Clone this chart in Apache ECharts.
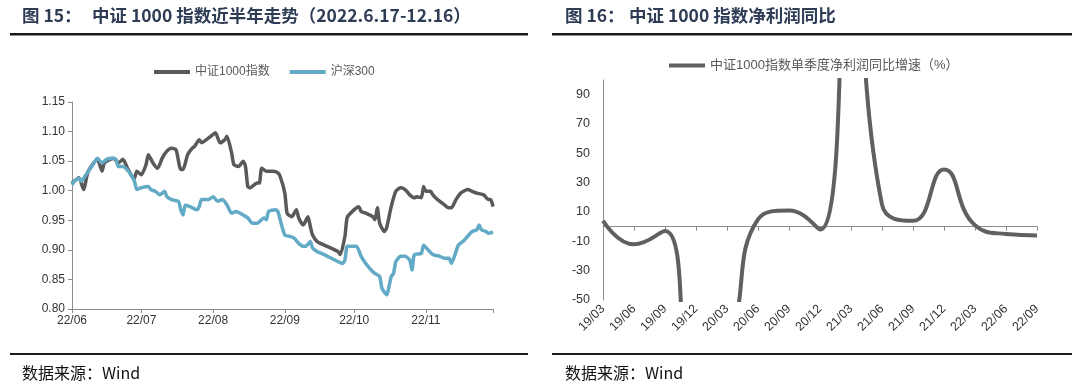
<!DOCTYPE html>
<html><head><meta charset="utf-8">
<script src="https://cdn.jsdelivr.net/npm/echarts@6/dist/echarts.min.js"></script>
<style>html,body{margin:0;padding:0;background:#fff}#c{width:1080px;height:390px}</style>
</head><body><div id="c"></div>
<script>
// ---- Left chart data (x = calendar days since 2022-06-17) ----
const monthTickDays = [0, 30, 61, 92, 122, 153, 182];
const monthLabels = ['22/06', '22/07', '22/08', '22/09', '22/10', '22/11'];
const csiDays = [0,3,5,7,11,13,14,18,20,22,24,26,27,28,30,32,33,35,37,39,41,43,45,47,48,50,52,53,55,56,58,60,62,64,66,67,69,70,72,74,75,76,77,80,81,82,84,87,89,90,92,93,95,97,98,100,102,103,104,106,109,112,115,116,118,119,122,124,125,127,130,131,132,133,135,136,138,140,142,144,146,148,149,151,152,153,155,156,158,159,161,163,164,166,168,171,173,175,178,180,181,182];
const csiValues = [1.013,1.022,1.002,1.033,1.053,1.033,1.047,1.055,1.047,1.053,1.038,1.024,1.021,1.033,1.027,1.044,1.061,1.047,1.038,1.055,1.067,1.072,1.069,1.036,1.036,1.061,1.072,1.075,1.086,1.081,1.086,1.092,1.098,1.081,1.086,1.092,1.064,1.044,1.041,1.050,1.041,1.007,1.005,1.013,1.013,1.038,1.033,1.033,1.030,1.024,0.996,0.962,0.956,0.968,0.954,0.942,0.956,0.940,0.925,0.914,0.908,0.903,0.897,0.892,0.923,0.955,0.968,0.973,0.965,0.962,0.956,0.951,0.971,0.945,0.931,0.937,0.973,0.999,1.005,1.002,0.993,0.988,0.990,0.988,1.007,0.999,0.999,0.993,0.985,0.982,0.976,0.971,0.971,0.985,0.996,1.002,0.999,0.996,0.993,0.985,0.985,0.973];
const hsDays = [0,1,3,4,6,8,10,11,13,15,17,19,20,22,25,27,28,30,33,34,36,38,40,41,43,46,47,48,49,51,54,55,56,59,61,63,65,67,69,71,74,76,78,80,83,84,85,88,89,90,92,94,96,98,100,101,103,104,106,109,112,115,117,118,119,121,123,125,127,130,131,133,134,136,138,139,140,142,144,146,147,148,151,152,154,156,159,161,163,164,167,169,171,173,175,176,177,179,180,182];
const hsValues = [1.010,1.016,1.021,1.016,1.027,1.038,1.050,1.055,1.047,1.053,1.055,1.053,1.041,1.041,1.030,1.016,1.002,1.005,1.007,1.002,0.999,0.993,0.999,0.990,0.985,0.982,0.968,0.959,0.976,0.973,0.968,0.973,0.985,0.985,0.990,0.982,0.985,0.976,0.962,0.965,0.959,0.954,0.945,0.945,0.954,0.951,0.965,0.968,0.965,0.951,0.925,0.923,0.920,0.911,0.906,0.906,0.914,0.903,0.897,0.892,0.886,0.880,0.877,0.883,0.906,0.906,0.906,0.889,0.877,0.863,0.860,0.855,0.835,0.824,0.855,0.860,0.880,0.889,0.889,0.883,0.866,0.892,0.894,0.908,0.900,0.892,0.889,0.886,0.886,0.877,0.908,0.914,0.923,0.931,0.934,0.942,0.934,0.931,0.928,0.930];

// ---- Right chart data ----
const quarters = ['19/03','19/06','19/09','19/12','20/03','20/06','20/09','20/12','21/03','21/06','21/09','21/12','22/03','22/06','22/09'];
const profitGrowth = [4, -12, -3, -110, -85, 5, 11, -2, 220, 15, 4, 39, 1, -5, -6];

const FONT = "'Liberation Sans', 'Noto Sans CJK SC', sans-serif";
const CJK = "'Noto Sans CJK SC', 'Liberation Sans', sans-serif";
const AX = '#8c8c8c';

const chart = echarts.init(document.getElementById('c'), null, { renderer: 'canvas' });

chart.setOption({
  animation: false,
  backgroundColor: '#fff',
  textStyle: { fontFamily: FONT },
  grid: [
    { left: 72, top: 102, width: 421, height: 207 },
    { left: 603, top: 80, width: 434, height: 220 }
  ],
  legend: [
    {
      data: ['中证1000指数', '沪深300'], left: 149, top: 61,
      icon: 'rect', itemWidth: 36, itemHeight: 4, itemGap: 20,
      textStyle: { fontSize: 12, color: '#595959', fontFamily: FONT }
    },
    {
      data: ['中证1000指数单季度净利润同比增速（%）'], left: 664, top: 54,
      icon: 'rect', itemWidth: 36, itemHeight: 4,
      textStyle: { fontSize: 13, color: '#595959', fontFamily: FONT }
    }
  ],
  xAxis: [
    {
      type: 'value', gridIndex: 0, min: 0, max: 182,
      axisLine: { show: true, lineStyle: { color: AX, width: 1 } },
      axisTick: { show: true, customValues: monthTickDays, length: 4, lineStyle: { color: AX } },
      axisLabel: {
        customValues: monthTickDays.slice(0, 6),
        formatter: v => monthLabels[monthTickDays.indexOf(v)] || '',
        color: '#333', fontSize: 12, margin: 6
      },
      splitLine: { show: false }
    },
    {
      type: 'category', gridIndex: 1, data: quarters, boundaryGap: false, position: 'bottom',
      axisLine: { show: false, onZero: false },
      axisTick: { show: false },
      axisLabel: { rotate: 45, color: '#333', fontSize: 12.5, margin: 7, interval: 0 },
      splitLine: { show: false }
    },
    {
      type: 'category', gridIndex: 1, data: quarters, boundaryGap: false, position: 'bottom',
      axisLine: { show: true, onZero: true, lineStyle: { color: AX, width: 1 } },
      axisTick: { show: true, length: 4, interval: 0, lineStyle: { color: AX } },
      axisLabel: { show: false },
      splitLine: { show: false }
    }
  ],
  yAxis: [
    {
      type: 'value', gridIndex: 0, min: 0.8, max: 1.15, interval: 0.05,
      axisLine: { show: true, lineStyle: { color: AX, width: 1 } },
      axisTick: { show: true, length: 4, lineStyle: { color: AX } },
      axisLabel: { formatter: v => v.toFixed(2), color: '#333', fontSize: 12, margin: 7 },
      splitLine: { show: false }
    },
    {
      type: 'value', gridIndex: 1, min: -50, max: 100, interval: 20,
      axisLine: { show: true, lineStyle: { color: AX, width: 1 } },
      axisTick: { show: false },
      axisLabel: { formatter: v => (v > 90 ? '' : String(v)), color: '#333', fontSize: 12.5, margin: 13 },
      splitLine: { show: false }
    }
  ],
  series: [
    {
      name: '中证1000指数', type: 'line', xAxisIndex: 0, yAxisIndex: 0,
      data: csiDays.map((d, i) => [d, csiValues[i]]),
      showSymbol: false, symbol: 'none', smooth: 0.2,
      lineStyle: { color: '#595959', width: 3.5 }, itemStyle: { color: '#595959' }, z: 3
    },
    {
      name: '沪深300', type: 'line', xAxisIndex: 0, yAxisIndex: 0,
      data: hsDays.map((d, i) => [d, hsValues[i]]),
      showSymbol: false, symbol: 'none', smooth: 0.2,
      lineStyle: { color: '#62aac6', width: 3.5 }, itemStyle: { color: '#62aac6' }, z: 4
    },
    {
      name: '中证1000指数单季度净利润同比增速（%）', type: 'line', xAxisIndex: 1, yAxisIndex: 1,
      data: profitGrowth,
      showSymbol: false, symbol: 'none', smooth: true,
      lineStyle: { color: '#606060', width: 4 }, itemStyle: { color: '#606060' }
    }
  ],
  graphic: [
    { type: 'text', left: 22, top: 7, style: { text: '图 15：', font: 'bold 17.5px ' + CJK, fill: '#2e3c56' } },
    { type: 'text', left: 92, top: 7, style: { text: '中证 1000 指数近半年走势（2022.6.17-12.16）', font: 'bold 17.5px ' + CJK, fill: '#2e3c56' } },
    { type: 'rect', shape: { x: 10, y: 33, width: 518, height: 2.5 }, style: { fill: '#1a1a1a' } },
    { type: 'text', left: 565, top: 7, style: { text: '图 16：', font: 'bold 17.5px ' + CJK, fill: '#2e3c56' } },
    { type: 'text', left: 629, top: 7, style: { text: '中证 1000 指数净利润同比', font: 'bold 17.5px ' + CJK, fill: '#2e3c56' } },
    { type: 'rect', shape: { x: 552, y: 33, width: 520, height: 2.5 }, style: { fill: '#1a1a1a' } },
    { type: 'rect', shape: { x: 10, y: 353, width: 518, height: 2 }, style: { fill: '#1a1a1a' } },
    { type: 'rect', shape: { x: 552, y: 353, width: 520, height: 2 }, style: { fill: '#1a1a1a' } },
    { type: 'text', left: 22, top: 365, style: { text: '数据来源：Wind', font: '16px ' + CJK, fill: '#111' } },
    { type: 'text', left: 565, top: 365, style: { text: '数据来源：Wind', font: '16px ' + CJK, fill: '#111' } }
  ]
});
</script>
</body></html>
